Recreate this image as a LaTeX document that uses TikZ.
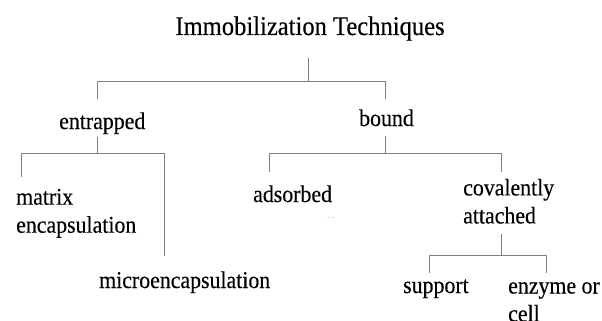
\documentclass[tikz,border=0pt]{standalone}
\usepackage{fontspec}
\setmainfont{Liberation Serif}
\newfontfamily\lblfont[FakeStretch=0.91,FakeBold=0.3]{Liberation Serif}
\begin{document}
\begin{tikzpicture}[x=1pt,y=-1pt]
	\tikzset{lbl/.style={inner sep=0pt,text=black,font=\lblfont\fontsize{24}{28}\selectfont},
		link/.style={draw=black!50,line width=1pt}}
	\useasboundingbox (0,0) rectangle (602,321);
	\node[lbl,anchor=base,font=\lblfont\fontsize{27}{30}\selectfont] (tech) at (310,35) {Immobilization Techniques};
	\node[lbl,anchor=base west] (entr) at (59,129) {entrapped};
	\node[lbl,anchor=base west] (bnd) at (359,126) {bound};
	\node[lbl,anchor=north west,align=left] (matrix) at (16,188.6) {matrix\\encapsulation};
	\node[lbl,anchor=base west] (micro) at (99,288) {microencapsulation};
	\node[lbl,anchor=base west] (ads) at (253,202) {adsorbed};
	\node[lbl,anchor=north west,align=left] (cov) at (463,178.6) {covalently\\attached};
	\node[lbl,anchor=base west] (supp) at (403,293) {support};
	\node[lbl,anchor=north west,align=left] (enz) at (508,282) {enzyme or\\cell};
	\node[inner sep=0pt,text=black!35,font=\scriptsize] (dots) at (331,219) {-\,\,-};
	% bars
	\coordinate (rootL) at (97,81);  \coordinate (rootR) at (385,81);
	\coordinate (entrL) at (21,153); \coordinate (entrR) at (164,153);
	\coordinate (bndL) at (269,153); \coordinate (bndR) at (501,153);
	\coordinate (covL) at (429,255); \coordinate (covR) at (546,255);
	\draw[link] (rootL) -- (rootR);
	\draw[link] (entrL) -- (entrR);
	\draw[link] (bndL) -- (bndR);
	\draw[link] (covL) -- (covR);
	% stems
	\draw[link,shorten <=17.1pt] ([xshift=-2pt]tech.south) -- ([xshift=-2pt]tech.south |- rootL);
	\draw[link,shorten <=2.8pt] (entr.south -| rootL) -- (entrL -| rootL);
	\draw[link,shorten <=10pt] (bnd.south -| rootR) -- (bndL -| rootR);
	\draw[link,shorten <=10pt] (cov.south -| bndR) -- (covL -| bndR);
	% drops
	\draw[link,shorten >=13.6pt] (rootL) -- (rootL |- entr.north);
	\draw[link,shorten >=10.6pt] (rootR) -- (rootR |- bnd.north);
	\draw[link,shorten >=11.6pt] (entrL) -- (entrL |- matrix.north);
	\draw[link,shorten >=15.6pt] (entrR) -- (entrR |- micro.north);
	\draw[link,shorten >=13.6pt] (bndL) -- (bndL |- ads.north);
	\draw[link,shorten >=6.6pt] (bndR) -- (bndR |- cov.north);
	\draw[link,shorten >=6pt] (covL) -- (covL |- supp.north);
	\draw[link,shorten >=9pt] (covR) -- (covR |- enz.north);
\end{tikzpicture}
\end{document}
